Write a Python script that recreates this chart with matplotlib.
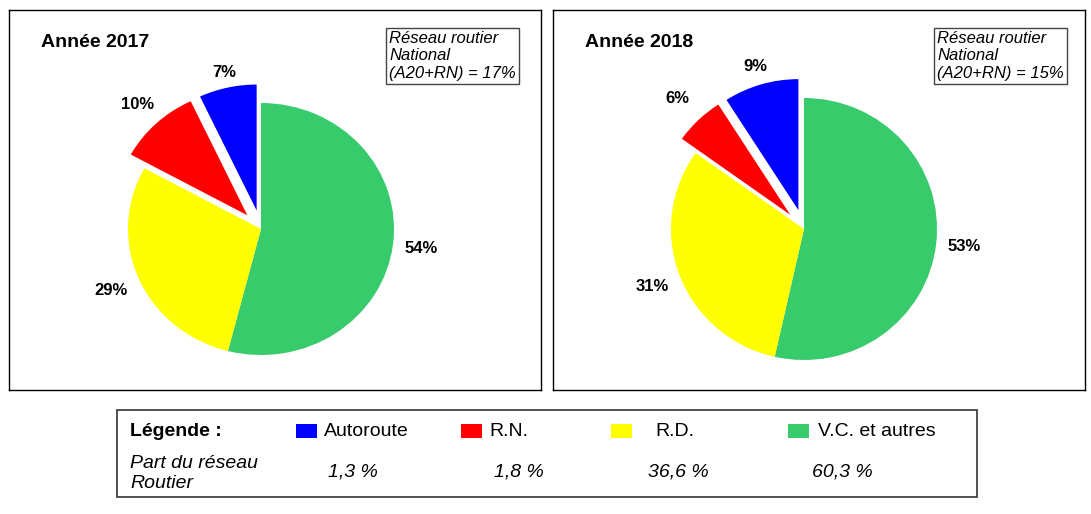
import numpy as np
import matplotlib.pyplot as plt
from matplotlib.patches import Rectangle

plt.rcParams['font.family'] = ['Liberation Sans', 'DejaVu Sans']

# slices listed clockwise from 12 o'clock
categories = ['V.C. et autres', 'R.D.', 'R.N.', 'Autoroute']
colors = ['#37cb6b', '#ffff00', '#ff0000', '#0000ff']
values_2017 = [54, 29, 10, 7]
values_2018 = [53, 31, 6, 9]
years = ['Année 2017', 'Année 2018']
national = ['17%', '15%']

legend_order = ['Autoroute', 'R.N.', 'R.D.', 'V.C. et autres']
legend_colors = ['#0000ff', '#ff0000', '#ffff00', '#37cb6b']
network_share = ['1,3 %', '1,8 %', '36,6 %', '60,3 %']

W, H = 1091, 514
fig = plt.figure(figsize=(W / 100, H / 100), dpi=100)


def px_axes(x0, y0, x1, y1):
    return fig.add_axes([x0 / W, 1 - y1 / H, (x1 - x0) / W, (y1 - y0) / H])


def draw_pie(box, center, rx, ry, values, year, nat, label_dist, note_x):
    x0, y0, x1, y1 = box
    cx, cy = center
    ax = px_axes(x0, y0, x1, y1)
    wedges, texts = ax.pie(values, colors=colors, startangle=90, counterclock=False,
                           explode=[0, 0, 0.15, 0.15], labels=[f'{v}%' for v in values],
                           textprops=dict(fontsize=12, fontweight='bold'))
    for w, t, d in zip(wedges, texts, label_dist):
        a = np.deg2rad((w.theta1 + w.theta2) / 2)
        t.set_position((d * np.cos(a), d * np.sin(a)))
        t.set_ha('center')
        t.set_va('center')
    ax.set_aspect('auto')
    ax.set_xlim((x0 - cx) / rx, (x1 - cx) / rx)
    ax.set_ylim((cy - y1) / ry, (cy - y0) / ry)
    ax.set_frame_on(True)
    for s in ax.spines.values():
        s.set_color('black')
        s.set_linewidth(1.0)
    ax.set_xticks([])
    ax.set_yticks([])
    ax.text(32 / (x1 - x0), 1 - 33 / (y1 - y0), year, transform=ax.transAxes,
            fontsize=14, fontweight='bold', va='center', ha='left')
    ax.text((note_x - x0) / (x1 - x0), 1 - 21 / (y1 - y0),
            'Réseau routier\nNational\n(A20+RN) = ' + nat,
            transform=ax.transAxes, fontsize=12, style='italic', va='top', ha='left',
            linespacing=1.2,
            bbox=dict(boxstyle='square,pad=0.2', fc='white', ec='#444444', lw=1))


draw_pie((9, 10, 541, 390), (261, 229), 133, 126, values_2017, years[0], national[0],
         [1.21, 1.23, 1.36, 1.27], 389)
draw_pie((553, 10, 1085, 390), (804, 229), 133, 131, values_2018, years[1], national[1],
         [1.21, 1.22, 1.38, 1.29], 937)

# legend panel
lax = px_axes(0, 0, W, H)
lax.set_xlim(0, W)
lax.set_ylim(H, 0)
lax.axis('off')
lax.add_patch(Rectangle((117, 410), 860, 87, fill=False, ec='#333333', lw=1.2))
lax.text(130, 431, 'Légende :', fontsize=14, fontweight='bold', va='center')
sq_x = [296, 461, 611, 788]
txt_x = [324, 489, 655, 818]
val_x = [328, 494, 648, 812]
for i, name in enumerate(legend_order):
    lax.add_patch(Rectangle((sq_x[i], 424), 21, 14, fc=legend_colors[i], ec='none'))
    lax.text(txt_x[i], 431, name, fontsize=14, va='center')
    lax.text(val_x[i], 472, network_share[i], fontsize=14, style='italic', va='center')
lax.text(130, 463, 'Part du réseau', fontsize=14, style='italic', va='center')
lax.text(130, 484, 'Routier', fontsize=14, style='italic', va='center')

fig.savefig('out.png', dpi=100)
